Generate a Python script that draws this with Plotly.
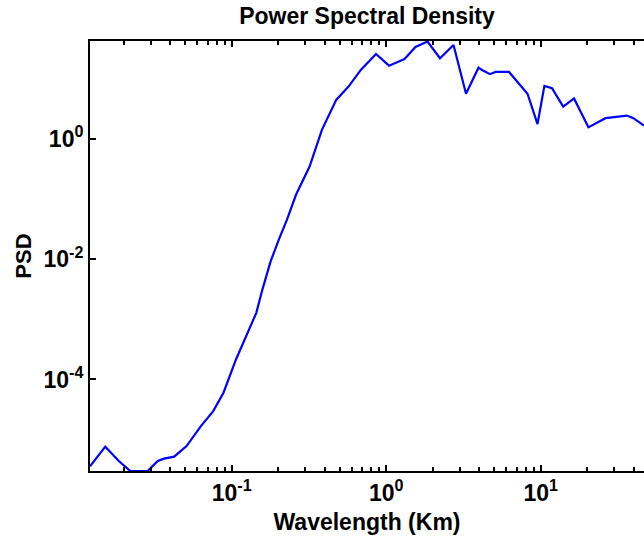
import plotly.graph_objects as go

# Wavelength (km) and power spectral density of the profile
wavelength_km = [
    0.01210, 0.01520, 0.01859, 0.02207, 0.02855, 0.03323, 0.03646, 0.04244,
    0.05102, 0.06318, 0.07592, 0.08848, 0.1066, 0.1238, 0.1443, 0.1580,
    0.1786, 0.2018, 0.2279, 0.2607, 0.2893, 0.3192, 0.3836, 0.4747,
    0.5702, 0.6849, 0.8590, 1.0426, 1.3135, 1.5474, 1.8507, 2.229,
    2.727, 3.285, 3.957, 4.170, 4.697, 5.098, 6.235, 8.215,
    9.535, 10.566, 11.834, 13.98, 16.43, 20.36, 26.27, 30.27,
    36.20, 39.76, 46.63,
]
psd = [
    3.60e-6, 7.64e-6, 4.41e-6, 3.0e-6, 3.0e-6, 4.41e-6, 4.83e-6, 5.21e-6,
    7.82e-6, 1.68e-5, 2.98e-5, 6.01e-5, 2.15e-4, 5.23e-4, 1.28e-3, 3.12e-3,
    9.19e-3, 0.0211, 0.0453, 0.1176, 0.2087, 0.3469, 1.411, 4.440,
    7.383, 13.97, 25.75, 16.47, 21.27, 33.65, 41.52, 21.85,
    36.33, 5.626, 15.26, 13.97, 11.90, 12.94, 12.94, 5.626,
    1.760, 7.582, 6.941, 3.437, 4.700, 1.552, 2.206, 2.318,
    2.436, 2.206, 1.663,
]

# Axis ticks
x_tick_vals = [0.1, 1, 10]
x_tick_text = ["<b>10<sup>-1</sup></b>", "<b>10<sup>0</sup></b>", "<b>10<sup>1</sup></b>"]
y_tick_vals = [1e-4, 1e-2, 1]
y_tick_text = ["<b>10<sup>-4</sup></b>", "<b>10<sup>-2</sup></b>", "<b>10<sup>0</sup></b>"]
x_minor_vals = [m * 10.0 ** e for e in range(-2, 2) for m in range(2, 10)]

FONT = "Liberation Sans, Arial, sans-serif"

fig = go.Figure()
fig.add_trace(go.Scatter(
    x=wavelength_km, y=psd, mode="lines",
    line=dict(color="#0000FF", width=2.2),
    showlegend=False,
))

fig.update_layout(
    width=644, height=541,
    margin=dict(l=90, r=0, t=41, b=70),
    paper_bgcolor="white", plot_bgcolor="white",
    font=dict(family=FONT, color="black"),
    title=dict(
        text="<b>Power Spectral Density</b>",
        x=0.5, xref="paper", xanchor="center",
        y=1, yref="container", yanchor="top", pad=dict(t=8),
        font=dict(size=23, family=FONT, color="black"),
    ),
)

fig.update_xaxes(
    type="log", range=[-1.9172, 1.6686],
    showgrid=False, zeroline=False,
    showline=True, linecolor="black", linewidth=2, mirror="ticks",
    ticks="inside", ticklen=6, tickwidth=2, tickcolor="black",
    tickvals=x_tick_vals, ticktext=x_tick_text,
    tickfont=dict(size=23, family=FONT, color="black"),
    minor=dict(tickvals=x_minor_vals, ticks="inside", ticklen=4,
               tickwidth=2, tickcolor="black", showgrid=False),
    title=dict(text="<b>Wavelength (Km)</b>", standoff=9,
               font=dict(size=23, family=FONT, color="black")),
)
fig.update_yaxes(
    type="log", range=[-5.522, 1.6266],
    showgrid=False, zeroline=False,
    showline=True, linecolor="black", linewidth=2, mirror=False,
    ticks="inside", ticklen=6, tickwidth=2, tickcolor="black",
    tickvals=y_tick_vals, ticktext=y_tick_text,
    tickfont=dict(size=23, family=FONT, color="black"),
    title=dict(text="<b>PSD</b>", standoff=6,
               font=dict(size=22, family=FONT, color="black")),
)

fig.write_html("out.html")
